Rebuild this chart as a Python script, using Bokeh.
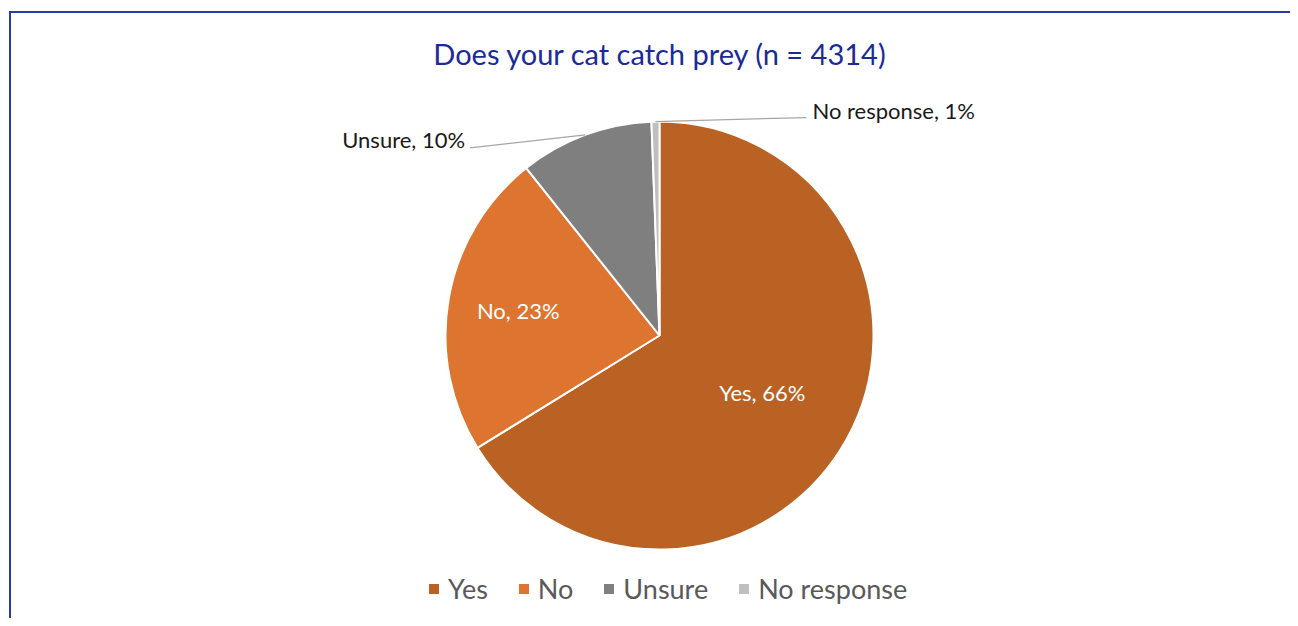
import math
from bokeh.plotting import figure
from bokeh.models import Range1d, Label, Legend, LegendItem, ColumnDataSource
from bokeh.embed import file_html
from bokeh.resources import INLINE

# ---- data ----
title_text = "Does your cat catch prey (n = 4314)"
categories = ["Yes", "No", "Unsure", "No response"]
shares = [66.2, 23.1, 10.1, 0.6]
colors = ["#BA6224", "#DD7430", "#7F7F7F", "#BFBFBF"]

# ---- layout (figure units = screen pixels, y up) ----
W, H = 1290, 618
FONT = "Lato"
cx, cy, R = 659, 283, 214

p = figure(width=W, height=H, output_backend="svg", toolbar_location=None,
           x_range=Range1d(0, W), y_range=Range1d(0, H),
           x_axis_type=None, y_axis_type=None, min_border=0,
           outline_line_color=None, background_fill_color="white",
           border_fill_color="white")
p.grid.visible = False

total = sum(shares)
starts, ends, mids = [], [], []
cum = 0.0
for s in shares:
    a0 = math.pi / 2 - 2 * math.pi * cum / total
    a1 = math.pi / 2 - 2 * math.pi * (cum + s) / total
    starts.append(a0)
    ends.append(a1)
    mids.append((a0 + a1) / 2)
    cum += s

src = ColumnDataSource(dict(cat=categories, share=shares, start=starts, end=ends, color=colors,
                            x=[cx] * 4, y=[cy] * 4))
wr = p.wedge(x="x", y="y", radius=R, radius_units="screen", start_angle="start", end_angle="end",
             direction="clock", fill_color="color", line_color="white", line_width=2, source=src)

# chart-area border (top and left edges visible)
bx0, by0 = 9.5, H - 11.5
p.line([bx0, bx0, W + 10], [-10, by0, by0], line_color="#2A3AA6", line_width=2, line_join="miter")

# title
p.add_layout(Label(x=cx + 1, y=H - 53, text=title_text, text_align="center", text_baseline="middle",
                   text_font=FONT, text_font_size="29px", text_color="#1B2A99"))

labels = [f"{c}, {round(s)}%" for c, s in zip(categories, shares)]

# inside labels
inside_k = {0: 0.55, 1: 0.67}
for i, k in inside_k.items():
    lx = cx + k * R * math.cos(mids[i])
    ly = cy + k * R * math.sin(mids[i])
    p.add_layout(Label(x=lx, y=ly, text=labels[i], text_align="center", text_baseline="middle",
                       text_font=FONT, text_font_size="22px", text_color="white"))

# outside labels with leader lines
outside = {2: (-115, -13, -5, 8, "right"), 3: (151, 4, 6, 7, "left")}
for i, (dx, dy, tdx, tdy, align) in outside.items():
    ex = cx + R * math.cos(mids[i])
    ey = cy + R * math.sin(mids[i])
    ax, ay = ex + dx, ey + dy
    p.line([ex, ax], [ey, ay], line_color="#A6A6A6", line_width=1.2)
    p.add_layout(Label(x=ax + tdx, y=ay + tdy, text=labels[i], text_align=align, text_baseline="middle",
                       text_font=FONT, text_font_size="22px", text_color="#1A1A1A"))

# legend
items = [LegendItem(label=c, renderers=[wr], index=i) for i, c in enumerate(categories)]
legend = Legend(items=items, orientation="horizontal", location=(426, 13),
                glyph_width=15, glyph_height=15, label_standoff=7, spacing=28, padding=0, margin=0,
                label_text_font=FONT, label_text_font_size="27px", label_text_color="#595959",
                border_line_alpha=0, background_fill_alpha=0)
p.add_layout(legend, "center")

open("out.html", "w").write(file_html(p, INLINE))
